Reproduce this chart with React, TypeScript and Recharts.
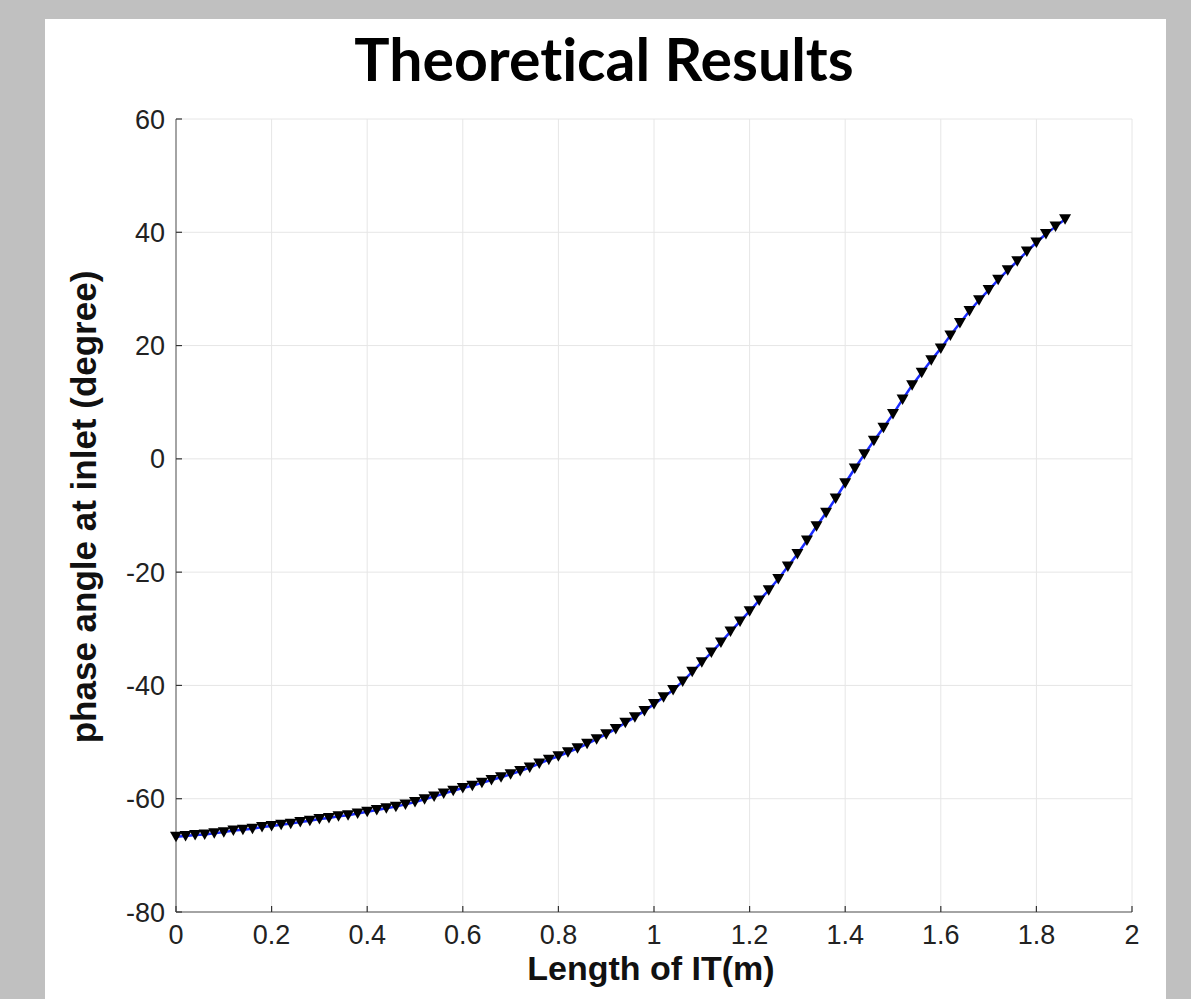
import { LineChart, Line, XAxis, YAxis, CartesianGrid } from 'recharts';

// length of IT (m), sampled every 2 cm as in the figure
const lengths = [
  0, 0.02, 0.04, 0.06, 0.08, 0.1, 0.12, 0.14, 0.16, 0.18,
  0.2, 0.22, 0.24, 0.26, 0.28, 0.3, 0.32, 0.34, 0.36, 0.38,
  0.4, 0.42, 0.44, 0.46, 0.48, 0.5, 0.52, 0.54, 0.56, 0.58,
  0.6, 0.62, 0.64, 0.66, 0.68, 0.7, 0.72, 0.74, 0.76, 0.78,
  0.8, 0.82, 0.84, 0.86, 0.88, 0.9, 0.92, 0.94, 0.96, 0.98,
  1, 1.02, 1.04, 1.06, 1.08, 1.1, 1.12, 1.14, 1.16, 1.18,
  1.2, 1.22, 1.24, 1.26, 1.28, 1.3, 1.32, 1.34, 1.36, 1.38,
  1.4, 1.42, 1.44, 1.46, 1.48, 1.5, 1.52, 1.54, 1.56, 1.58,
  1.6, 1.62, 1.64, 1.66, 1.68, 1.7, 1.72, 1.74, 1.76, 1.78,
  1.8, 1.82, 1.84, 1.86,
];

// phase angle at inlet (degree)
const phaseAngles = [
  -66.7, -66.6, -66.4, -66.3, -66.1, -65.9, -65.6, -65.5, -65.3, -65.0,
  -64.8, -64.6, -64.4, -64.1, -63.9, -63.6, -63.4, -63.1, -62.9, -62.6,
  -62.3, -62.0, -61.7, -61.4, -61.0, -60.6, -60.1, -59.6, -59.1, -58.6,
  -58.1, -57.7, -57.2, -56.7, -56.2, -55.7, -55.1, -54.5, -53.8, -53.1,
  -52.5, -51.8, -51.1, -50.3, -49.5, -48.6, -47.7, -46.6, -45.6, -44.5,
  -43.3, -42.1, -40.8, -39.3, -37.6, -35.9, -34.2, -32.4, -30.5, -28.7,
  -26.9, -25.0, -23.2, -21.2, -19.0, -16.8, -14.4, -11.9, -9.5, -7.0,
  -4.3, -1.7, 0.8, 3.2, 5.5, 7.9, 10.5, 13.0, 15.2, 17.4,
  19.5, 21.8, 24.0, 26.1, 28.0, 29.8, 31.6, 33.3, 34.9, 36.6,
  38.2, 39.7, 41.0, 42.3,
];

const xTicks = [0, 0.2, 0.4, 0.6, 0.8, 1, 1.2, 1.4, 1.6, 1.8, 2];
const yTicks = [-80, -60, -40, -20, 0, 20, 40, 60];

const data = lengths.map((len, i) => ({ len, phase: phaseAngles[i] }));

const font = 'Liberation Sans, Arial, sans-serif';
const frame = { stroke: '#8a8a8a', strokeWidth: 1.5 };
const TICK = 6;

// MATLAB style ticks: short marks pointing into the plot box
function BottomTick({ x, y, payload }: any) {
  return (
    <g>
      <line x1={x} y1={y} x2={x} y2={y - TICK} stroke="#333" strokeWidth={1.2} />
      <text x={x} y={y + 13} dy="0.71em" textAnchor="middle" fill="#222" fontSize={27} fontFamily={font}>
        {payload.value}
      </text>
    </g>
  );
}

function LeftTick({ x, y, payload }: any) {
  return (
    <g>
      <line x1={x} y1={y} x2={x + TICK} y2={y} stroke="#333" strokeWidth={1.2} />
      <text x={x - 11} y={y} dy="0.355em" textAnchor="end" fill="#222" fontSize={27} fontFamily={font}>
        {payload.value}
      </text>
    </g>
  );
}

function TopTick({ x, y }: any) {
  return <line x1={x} y1={y} x2={x} y2={y + TICK} stroke="#333" strokeWidth={1.2} />;
}

function RightTick({ x, y }: any) {
  return <line x1={x} y1={y} x2={x - TICK} y2={y} stroke="#333" strokeWidth={1.2} />;
}

function TriangleDown(props: any) {
  const { cx, cy, index } = props;
  if (cx == null || cy == null) return <g key={index} />;
  return (
    <path
      key={index}
      d={`M${cx - 6},${cy - 5}L${cx + 6},${cy - 5}L${cx},${cy + 5.5}Z`}
      fill="#000"
    />
  );
}

export default function App() {
  return (
    <div style={{ position: 'absolute', left: 0, top: 0, width: 1191, height: 999, background: '#c0c0c0', overflow: 'hidden' }}>
      <div style={{ position: 'absolute', left: 45, top: 19, width: 1121, height: 980, background: '#fff' }} />
      <svg width={1191} height={999} style={{ position: 'absolute', left: 0, top: 0 }}>
        <text
          x={604}
          y={81}
          textAnchor="middle"
          fontFamily="Lato, 'Open Sans', sans-serif"
          fontWeight="bold"
          fontSize={59}
          fill="#000"
          style={{ fontVariantLigatures: 'none' }}
        >
          Theoretical Results
        </text>
        <text x={651} y={980} textAnchor="middle" fontFamily={font} fontWeight="bold" fontSize={34} fill="#111">
          Length of IT(m)
        </text>
        <text x={96} y={507} transform="rotate(-90 96 507)" textAnchor="middle" fontFamily={font} fontWeight="bold" fontSize={35} fill="#111">
          phase angle at inlet (degree)
        </text>
      </svg>
      <div style={{ position: 'absolute', left: 46, top: 99 }}>
        <LineChart width={1120} height={900} data={data} margin={{ top: 20, right: 34, bottom: 47, left: 70 }}>
          <CartesianGrid stroke="#e6e6e6" strokeWidth={1} />
          <XAxis
            dataKey="len"
            type="number"
            domain={[0, 2]}
            ticks={xTicks}
            height={40}
            tickSize={0}
            tickMargin={0}
            axisLine={frame}
            tickLine={false}
            tick={BottomTick}
          />
          <XAxis
            xAxisId="top"
            dataKey="len"
            type="number"
            orientation="top"
            domain={[0, 2]}
            ticks={xTicks}
            height={0}
            tickSize={0}
            tickMargin={0}
            axisLine={frame}
            tickLine={false}
            tick={TopTick}
          />
          <YAxis
            type="number"
            domain={[-80, 60]}
            ticks={yTicks}
            width={60}
            tickSize={0}
            tickMargin={0}
            axisLine={frame}
            tickLine={false}
            tick={LeftTick}
          />
          <YAxis
            yAxisId="right"
            type="number"
            orientation="right"
            domain={[-80, 60]}
            ticks={yTicks}
            width={0}
            tickSize={0}
            tickMargin={0}
            axisLine={frame}
            tickLine={false}
            tick={RightTick}
          />
          <Line
            type="linear"
            dataKey="phase"
            stroke="#1a2cff"
            strokeWidth={2.5}
            dot={TriangleDown}
            activeDot={false}
            isAnimationActive={false}
          />
        </LineChart>
      </div>
    </div>
  );
}
